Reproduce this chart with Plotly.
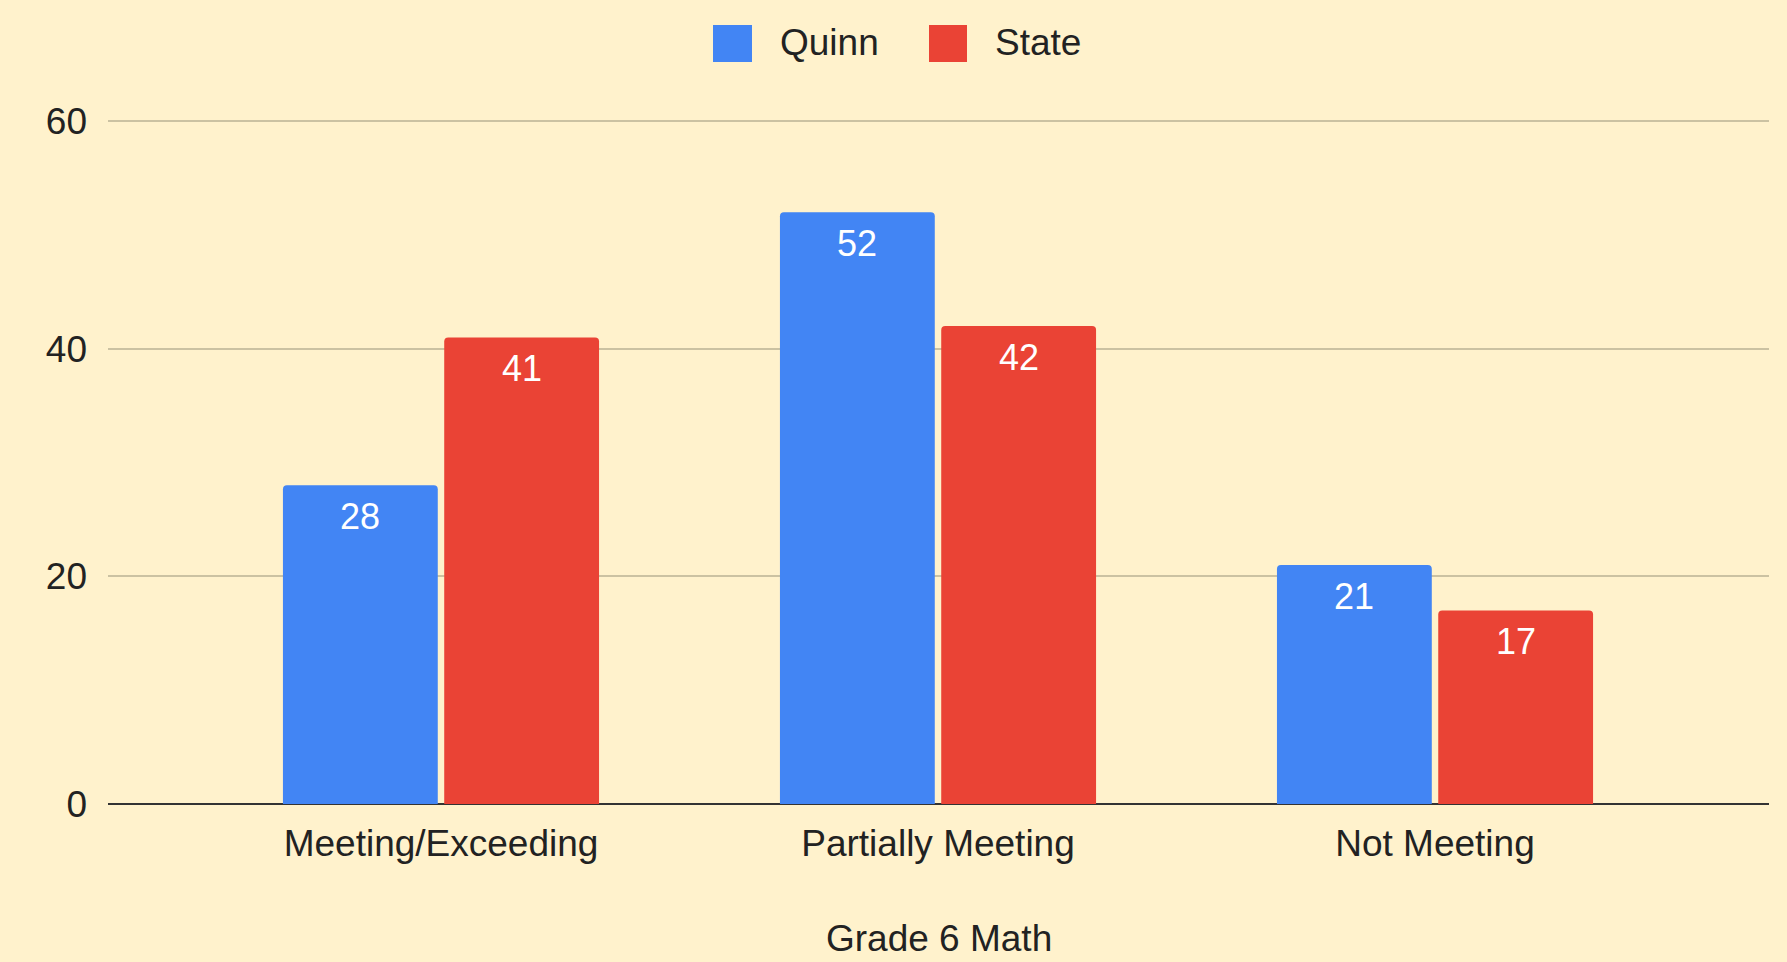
import plotly.graph_objects as go

categories = ["Meeting/Exceeding", "Partially Meeting", "Not Meeting"]
quinn = [28, 52, 21]
state = [41, 42, 17]
series_names = ["Quinn", "State"]
colors = ["#4285F4", "#EA4335"]
y_ticks = [0, 20, 40, 60]
x_title = "Grade 6 Math"

W, H = 1787, 962
ML, MR, MT, MB = 108, 18, 120, 158
PW, PH = W - ML - MR, H - MT - MB
FONT = "Arial, Liberation Sans, sans-serif"
FS = 37
TXT = "#222222"

def px_x(px):
    return (px - ML) / PW

def px_y(py):
    return 1 - (py - MT) / PH

fig = go.Figure()
for name, vals, col in zip(series_names, [quinn, state], colors):
    fig.add_trace(go.Bar(
        x=categories, y=vals, name=name, marker=dict(color=col, line=dict(width=0)),
        showlegend=False, hoverinfo="x+y+name",
    ))

annotations = []
for i, vals in enumerate([quinn, state]):
    shift = -81 if i == 0 else 81
    for c, v in zip(categories, vals):
        annotations.append(dict(
            x=c, y=v, xref="x", yref="y", text=str(v), showarrow=False,
            xshift=shift, yshift=-31, yanchor="middle",
            font=dict(family=FONT, size=36, color="#ffffff"),
        ))

annotations.append(dict(
    x=0.5, y=px_y(938), xref="paper", yref="paper", text=x_title, showarrow=False,
    xanchor="center", yanchor="middle", font=dict(family=FONT, size=FS, color=TXT),
))

# custom legend
shapes = []
legend_items = [(713, 752, 778), (929, 967, 993)]
for (x0, x1, tx), name, col in zip(legend_items, series_names, colors):
    shapes.append(dict(type="rect", xref="paper", yref="paper",
                       x0=px_x(x0), x1=px_x(x1), y0=px_y(62), y1=px_y(25),
                       fillcolor=col, line=dict(width=0)))
    annotations.append(dict(x=px_x(tx), y=px_y(43), xref="paper", yref="paper",
                            text=name, showarrow=False, xanchor="left", yanchor="middle",
                            font=dict(family=FONT, size=FS, color=TXT)))

fig.update_layout(
    width=W, height=H,
    margin=dict(l=ML, r=MR, t=MT, b=MB),
    paper_bgcolor="#FFF2CC", plot_bgcolor="#FFF2CC",
    barmode="group", bargap=0.351, bargroupgap=0.04, barcornerradius=4,
    font=dict(family=FONT, size=FS, color=TXT),
    annotations=annotations, shapes=shapes,
    showlegend=False,
)
fig.update_xaxes(
    range=[-0.67, 2.672], showgrid=False, zeroline=False, showline=False,
    ticks="", ticklabelstandoff=14,
    tickfont=dict(family=FONT, size=FS, color=TXT),
)
fig.update_yaxes(
    range=[0, 60.1], tickvals=y_ticks, showgrid=True, gridcolor="#CBC2A2", gridwidth=2,
    zeroline=True, zerolinecolor="#333333", zerolinewidth=2, showline=False,
    ticks="", ticklabelstandoff=20,
    tickfont=dict(family=FONT, size=FS, color=TXT),
)

fig.write_html(
    "out.html",
    config={"displayModeBar": False},
    post_script="document.body.style.margin='0';document.body.style.padding='0';document.body.style.overflow='hidden';",
)
